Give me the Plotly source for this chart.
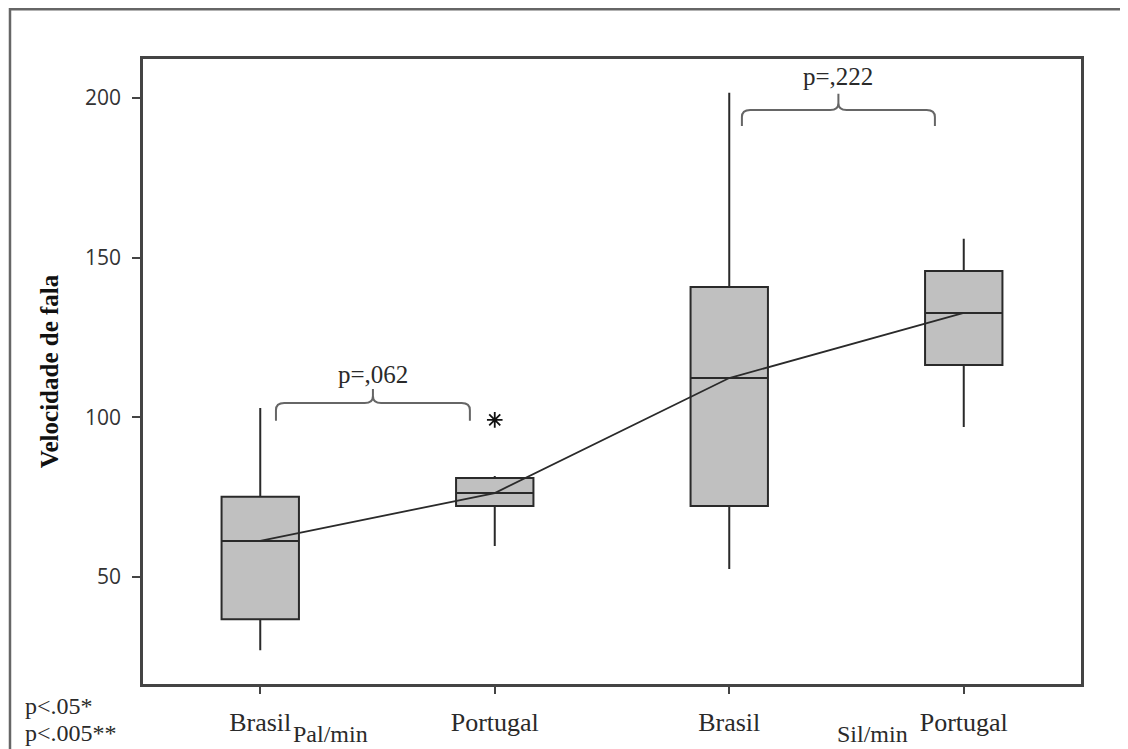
import plotly.graph_objects as go

# ---- data ----
positions = [1, 2, 3, 4]
tick_labels = ["Brasil", "Portugal", "Brasil", "Portugal"]
measures = ["Pal/min", "Sil/min"]
lower_whisker = [27.1, 59.7, 52.5, 97.0]
q1_vals = [36.8, 72.2, 72.2, 116.4]
median_vals = [61.3, 76.3, 112.3, 132.7]
q3_vals = [75.1, 81.0, 140.8, 145.8]
upper_whisker = [102.9, 81.6, 201.6, 155.9]
outlier_x = [2]
outlier_y = [99.2]
p_labels = ["p=,062", "p=,222"]
legend_lines = ["p<.05*", "p<.005**"]

SERIF = "Liberation Serif"
INK = "#2a2a2a"

fig = go.Figure()

for i, pos in enumerate(positions):
    fig.add_trace(go.Box(
        x=[pos], q1=[q1_vals[i]], median=[median_vals[i]], q3=[q3_vals[i]],
        lowerfence=[lower_whisker[i]], upperfence=[upper_whisker[i]],
        width=0.33, whiskerwidth=0, boxpoints=False,
        fillcolor="#c0c0c0", line=dict(color=INK, width=2),
        showlegend=False, hoverinfo="skip",
    ))

# line connecting medians
fig.add_trace(go.Scatter(
    x=positions, y=median_vals, mode="lines",
    line=dict(color="#2a2a2a", width=1.8), showlegend=False, hoverinfo="skip",
))

# outlier
fig.add_trace(go.Scatter(
    x=outlier_x, y=outlier_y, mode="markers",
    marker=dict(symbol="asterisk-open", size=13, color="#111111",
                line=dict(color="#111111", width=1.8)),
    showlegend=False, hoverinfo="skip",
))

# curly braces with p-values
brackets = [
    # (x start, x end, y ends, y horizontal, y tip, text y)
    (positions[0] + 0.067, positions[1] - 0.106, 98.9, 104.5, 108.9, 113.3),
    (positions[2] + 0.054, positions[3] - 0.123, 191.2, 196.2, 201.3, 206.6),
]
for (x0, x1, yb, yh, yt, ytxt), lab in zip(brackets, p_labels):
    xc = (x0 + x1) / 2
    rx = 0.035
    ry = 2.2
    path = (f"M {x0},{yb} L {x0},{yh - ry} Q {x0},{yh} {x0 + rx},{yh} "
            f"L {xc - rx},{yh} Q {xc},{yh} {xc},{yh + ry} L {xc},{yt} "
            f"M {xc},{yh + ry} Q {xc},{yh} {xc + rx},{yh} "
            f"L {x1 - rx},{yh} Q {x1},{yh} {x1},{yh - ry} L {x1},{yb}")
    fig.add_shape(type="path", path=path, xref="x", yref="y",
                  line=dict(color="#666666", width=2))
    fig.add_annotation(x=xc, y=ytxt, xref="x", yref="y", text=lab,
                       showarrow=False, font=dict(family=SERIF, size=25, color=INK))

# measure labels under the axis
for m, xm in zip(measures, [1.30, 3.61]):
    fig.add_annotation(x=xm, y=-0.08, xref="x", yref="paper",
                       text=m, showarrow=False, yanchor="middle",
                       font=dict(family=SERIF, size=24, color=INK))

# significance legend
for k, t in enumerate(legend_lines):
    fig.add_annotation(x=-0.128, y=-0.035 - k * 0.044, xref="paper", yref="paper",
                       text=t, showarrow=False, xanchor="left", yanchor="middle",
                       font=dict(family=SERIF, size=24, color=INK))

# outer frame (partly cut off on right and bottom)
fig.add_shape(type="rect", xref="paper", yref="paper",
              x0=-0.1418, x1=1.07, y0=-0.14, y1=1.0795,
              line=dict(color="#666666", width=2.5), layer="below")

fig.update_layout(
    width=1120, height=741,
    margin=dict(l=135, r=47, t=51, b=65),
    paper_bgcolor="white", plot_bgcolor="white",
    xaxis=dict(range=[0.5, 4.5], tickmode="array", tickvals=positions,
               ticktext=tick_labels, showline=True, mirror=True,
               linecolor="#444444", linewidth=2.5, ticks="outside", ticklen=7,
               tickwidth=2, tickcolor="#444444", showgrid=False, zeroline=False,
               tickfont=dict(family=SERIF, size=26, color=INK),
               ticklabelstandoff=6),
    yaxis=dict(range=[16.5, 212.2], tickmode="array", tickvals=[50, 100, 150, 200],
               showline=True, mirror=True, linecolor="#444444", linewidth=2.5,
               ticks="outside", ticklen=8, tickwidth=2, tickcolor="#444444",
               showgrid=False, zeroline=False,
               tickfont=dict(family="Open Sans", size=21, color="#333333"),
               ticklabelstandoff=7,
               title=dict(text="<b>Velocidade de fala</b>", standoff=20,
                          font=dict(family=SERIF, size=25, color="#111111"))),
)

fig.write_html("out.html")
